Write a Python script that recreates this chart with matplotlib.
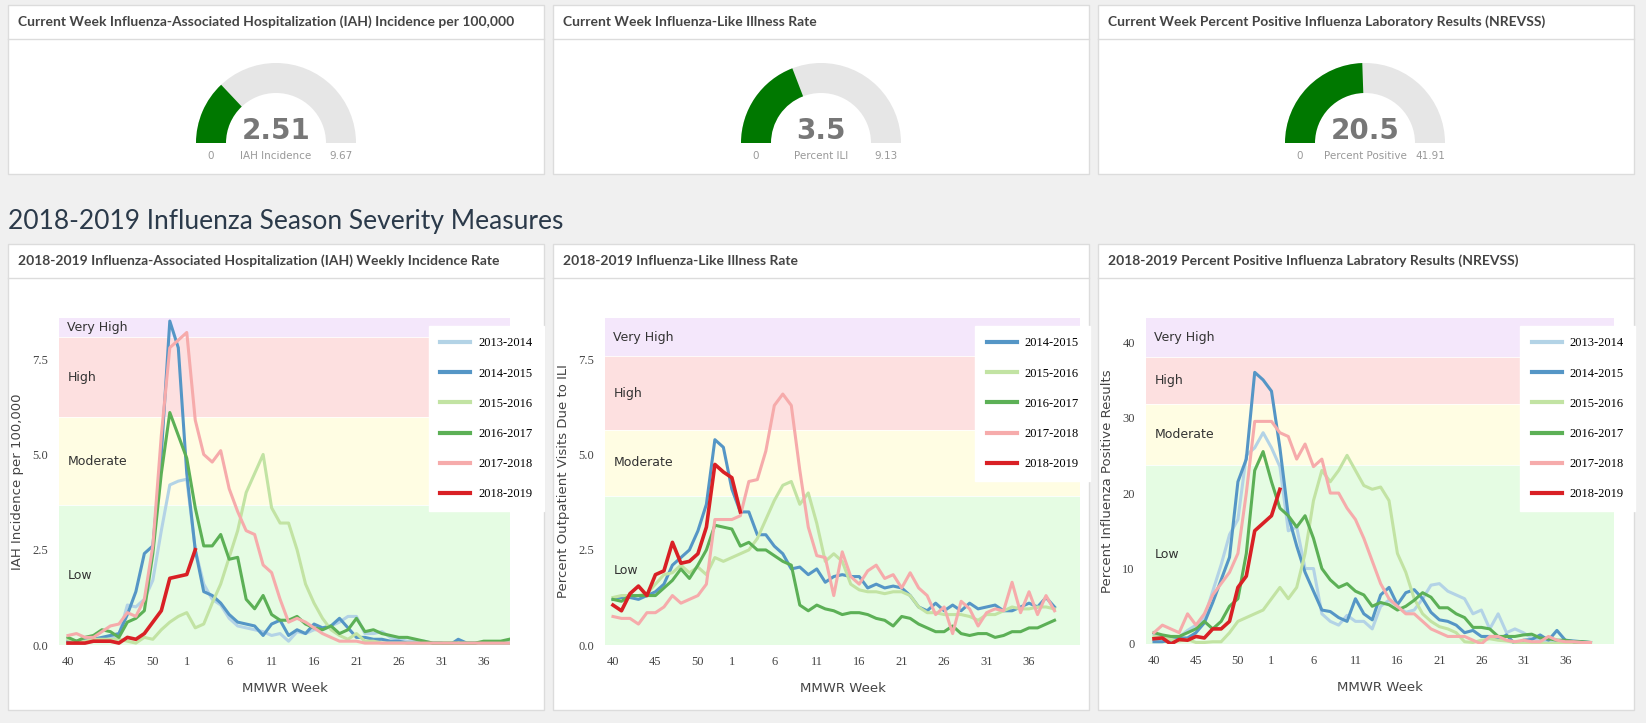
import matplotlib
matplotlib.use("Agg")
import matplotlib.pyplot as plt
from matplotlib.patches import Rectangle, Wedge
import numpy as np

W, H = 1646, 723
weeks = list(range(40, 54)) + list(range(1, 40))
tick_weeks = [40, 45, 50, 1, 6, 11, 16, 21, 26, 31, 36]

# ---------------- gauges ----------------
gauge_titles = ["Current Week Influenza-Associated Hospitalization (IAH) Incidence per 100,000",
                "Current Week Influenza-Like Illness Rate",
                "Current Week Percent Positive Influenza Laboratory Results (NREVSS)"]
gauge_values = [2.51, 3.5, 20.5]
gauge_max = [9.67, 9.13, 41.91]
gauge_labels = ["IAH Incidence", "Percent ILI", "Percent Positive"]

# ---------------- chart 1: IAH ----------------
iah = {
 "2013-2014": [0.1,0.1,0.1,0.1,0.15,0.2,0.25,1.05,1.0,1.2,1.7,3.0,4.2,4.3,4.35,2.5,1.6,1.2,1.05,0.7,0.5,0.45,0.4,0.35,0.25,0.3,0.1,0.35,0.3,0.4,0.4,0.5,0.6,0.75,0.75,0.3,0.3,0.35,0.2,0.15,0.1,0.1,0.1,0.05,0.05,0.05,0.05,0.05,0.05,0.05,0.05,0.05,0.05],
 "2014-2015": [0.1,0.1,0.15,0.15,0.2,0.25,0.3,0.8,1.4,2.4,2.6,5.0,8.5,7.8,4.5,2.5,1.4,1.3,1.1,0.8,0.6,0.55,0.5,0.25,0.55,0.65,0.25,0.4,0.3,0.55,0.45,0.5,0.7,0.45,0.2,0.2,0.15,0.15,0.1,0.1,0.05,0.05,0.05,0.05,0.05,0.0,0.15,0.05,0.05,0.05,0.05,0.05,0.05],
 "2015-2016": [0.15,0.1,0.1,0.15,0.15,0.15,0.15,0.1,0.05,0.2,0.15,0.4,0.6,0.75,0.85,0.45,0.55,1.1,1.6,2.3,3.0,4.0,4.5,5.0,3.6,3.2,3.2,2.5,1.6,1.1,0.7,0.4,0.25,0.15,0.3,0.1,0.1,0.05,0.05,0.05,0.05,0.05,0.05,0.05,0.05,0.05,0.05,0.05,0.05,0.05,0.05,0.05,0.05],
 "2016-2017": [0.2,0.1,0.2,0.25,0.4,0.35,0.2,0.6,0.7,0.9,2.4,4.5,6.1,5.5,4.9,3.6,2.6,2.6,2.9,2.25,2.3,1.2,0.95,1.3,0.8,0.65,0.65,0.75,0.55,0.45,0.4,0.5,0.3,0.4,0.7,0.35,0.4,0.3,0.25,0.2,0.2,0.15,0.1,0.05,0.05,0.05,0.05,0.05,0.05,0.1,0.1,0.1,0.15],
 "2017-2018": [0.25,0.3,0.2,0.2,0.35,0.5,0.55,0.85,0.75,1.2,2.6,5.5,7.8,8.0,8.2,5.9,5.0,4.8,5.1,4.1,3.5,3.0,2.9,2.1,1.9,1.2,0.6,0.7,0.6,0.45,0.3,0.2,0.1,0.1,0.1,0.05,0.05,0.05,0.05,0.05,0.05,0.05,0.05,0.05,0.05,0.05,0.05,0.05,0.05,0.05,0.05,0.05,0.05],
 "2018-2019": [0.05,0.05,0.05,0.1,0.1,0.1,0.05,0.2,0.15,0.3,0.6,0.9,1.75,1.8,1.85,2.5],
}
# ---------------- chart 2: ILI ----------------
ili = {
 "2014-2015": [1.2,1.25,1.25,1.2,1.3,1.4,1.6,2.1,2.3,2.5,3.0,3.7,5.4,5.2,4.1,3.5,3.5,2.9,2.9,2.6,2.4,2.0,2.05,1.85,2.0,1.65,1.8,1.85,1.8,1.8,1.5,1.6,1.5,1.55,1.5,1.3,1.0,0.9,1.1,0.9,1.05,0.9,1.1,0.95,1.0,1.05,0.9,0.9,1.0,1.1,1.0,1.25,1.0],
 "2015-2016": [1.25,1.3,1.3,1.3,1.35,1.6,1.85,1.9,2.1,1.9,2.05,1.85,2.3,2.2,2.3,2.4,2.5,2.8,3.3,3.8,4.2,4.3,3.7,4.0,3.2,2.2,2.4,2.2,1.6,1.45,1.4,1.4,1.35,1.4,1.4,1.3,1.0,0.85,0.85,0.8,0.8,0.8,0.75,0.65,0.8,0.8,0.9,1.0,0.95,0.95,1.0,1.0,0.95],
 "2016-2017": [1.2,1.15,1.3,1.3,1.3,1.3,1.5,1.7,2.0,1.75,2.1,2.5,3.15,3.1,3.05,2.6,2.7,2.5,2.5,2.35,2.2,2.1,1.05,0.9,1.05,0.95,0.9,0.8,0.85,0.85,0.8,0.7,0.65,0.5,0.75,0.7,0.55,0.45,0.35,0.35,0.5,0.3,0.25,0.3,0.3,0.2,0.25,0.35,0.35,0.45,0.45,0.55,0.65],
 "2017-2018": [0.75,0.7,0.7,0.55,0.85,0.85,1.0,1.3,1.1,1.2,1.3,1.6,3.3,3.3,3.3,3.4,4.3,4.35,5.1,6.3,6.6,6.3,4.6,3.1,2.35,2.3,1.3,2.45,1.8,1.6,1.95,2.1,1.75,1.85,1.5,1.9,1.5,1.3,0.8,1.0,0.3,1.15,0.95,0.5,0.85,0.95,0.9,1.65,0.85,1.4,0.8,1.3,0.9],
 "2018-2019": [1.05,0.9,1.35,1.55,1.3,1.85,1.95,2.7,2.15,2.2,2.4,3.1,4.75,4.55,4.4,3.5],
}
# ---------------- chart 3: percent positive ----------------
pos = {
 "2013-2014": [1.3,0.9,0.7,0.9,1.8,2.5,3.5,7,10.5,14.5,16.5,25,26,28,26,23.5,15,15.5,10,10,4,3,2.5,3.8,3,3,2,5,5.8,5,4.2,4.5,6,7.8,8,7,6.5,6,4,4.5,2,4,1.5,2,1.5,0.8,0.5,0.3,0.5,0.3,0.2,0.2,0.2],
 "2014-2015": [0.3,0.3,0.5,0.8,0.8,1.5,2.8,5.5,8.5,11.5,21.5,24.5,36,35,33.5,26,17,13,9.5,7,4.5,4.3,3.5,3,6,4,3.2,6.5,7.5,5.2,6.8,7.2,6,4.2,3.2,3.0,2.5,1.5,1.8,1.0,1.0,0.6,1.2,0,0.5,0.6,1.2,0.5,1.8,0.5,0.4,0.3,0.2],
 "2015-2016": [1.0,0.8,0.6,0.4,0.6,0.2,0.2,0.3,0.3,1.5,3,3.5,4,4.5,6,7.5,6,7.5,12,19,23,21.5,23,25,23,21,20.5,20.8,19,12,9.5,6,4,3,2.3,2,1.5,0.3,0.2,0.5,0.7,0.5,0.4,0.2,0.1,0.1,0.1,0.1,0.1,0.1,0.1,0.1,0.1],
 "2016-2017": [1.5,1.2,1.0,1.0,1.5,2.0,3.0,2.0,3.0,5.0,6.0,12,23,25.5,21.5,18,17,15.5,17,14,10,8.5,7.5,8,7,6.5,5,5.5,5.2,4.5,5,5.8,6.8,6.2,4.8,4.8,4,3.5,2.2,2.2,2,1,1,1,1.2,1.3,0.8,0.7,0.5,0.5,0.3,0.3,0.2],
 "2017-2018": [1.5,2.5,2.0,1.5,4,2.5,4,6.5,8,9.5,12,20,29.5,29.5,29.5,28,27.5,24.5,26.5,23.5,24.5,20,20,18,16.5,14,11,8,6,5,4,4,3,2,1.5,1,1,1,0.5,0,1,1,0.5,0.3,0.5,0.3,0.3,1.0,0.5,0.3,0.3,0.2,0.2],
 "2018-2019": [0.7,0.8,0,0.6,0.5,1,0.8,2,2,3,7.5,9,15,16,17,20.5],
}

colors = {"2013-2014": "#b3d3e6", "2014-2015": "#5596c6", "2015-2016": "#c2e3a3",
          "2016-2017": "#5cb056", "2017-2018": "#f6abab", "2018-2019": "#d92025"}

band_colors = ["#e5fce3", "#fffde3", "#fde0e0", "#f4e7fb"]
band_names = ["Low", "Moderate", "High", "Very High"]

fig = plt.figure(figsize=(W/100, H/100), dpi=100)
fig.patch.set_facecolor("#f0f0f0")

def fx(x): return x / W
def fy(y): return 1 - y / H

def panel(l, t, r, b, title, header=34):
    rect = Rectangle((fx(l), fy(b)), fx(r-l), (b-t)/H, transform=fig.transFigure,
                     facecolor="white", edgecolor="#dcdcdc", lw=1, zorder=-10)
    fig.patches.append(rect)
    ln = plt.Line2D([fx(l), fx(r)], [fy(t+header)]*2, transform=fig.transFigure,
                    color="#dcdcdc", lw=1, zorder=-9)
    fig.lines.append(ln)
    fig.text(fx(l+10), fy(t+header/2), title, fontsize=10, fontweight="bold", family="Lato",
             color="#444444", va="center", ha="left")

tops = [(8, 544), (553, 1089), (1098, 1634)]
bottom_titles = ["2018-2019 Influenza-Associated Hospitalization (IAH) Weekly Incidence Rate",
                 "2018-2019 Influenza-Like Illness Rate",
                 "2018-2019 Percent Positive Influenza Labratory Results (NREVSS)"]
for i, (l, r) in enumerate(tops):
    panel(l, 5, r, 174, gauge_titles[i])
    panel(l, 244, r, 710, bottom_titles[i])

fig.text(fx(8), fy(221), "2018-2019 Influenza Season Severity Measures", fontsize=19, family="Lato",
         color="#2b3a4a", va="center", ha="left")

# gauges
centers = [276, 821, 1365]
for i, cx in enumerate(centers):
    cy = 143
    R, r_in = 80, 50
    gax = fig.add_axes([fx(cx-R-40), fy(cy+25), (2*R+80)/W, (R+30)/H])
    gax.set_xlim(-R-40, R+40); gax.set_ylim(-25, R+5)
    gax.axis("off")
    gax.add_patch(Wedge((0, 0), R, 0, 180, width=R-r_in, facecolor="#e6e6e6", edgecolor="none"))
    ang = 180 - 180 * gauge_values[i] / gauge_max[i]
    gax.add_patch(Wedge((0, 0), R, ang, 180, width=R-r_in, facecolor="#007800", edgecolor="none"))
    gax.text(0, 12, f"{gauge_values[i]}", ha="center", va="center", fontsize=20, fontweight="bold",
             color="#777777", family="DejaVu Sans")
    gax.text(-65, -13, "0", ha="center", va="center", fontsize=7.5, color="#999999")
    gax.text(0, -13, gauge_labels[i], ha="center", va="center", fontsize=7.5, color="#999999")
    gax.text(65, -13, f"{gauge_max[i]}", ha="center", va="center", fontsize=7.5, color="#999999")

def chart(l, t, r, b, data, xlim, ylim, thresholds, yticks, yfmt, ylabel, legend_box):
    ax = fig.add_axes([fx(l), fy(b), (r-l)/W, (b-t)/H])
    ax.set_facecolor("white")
    edges = [ylim[0]] + thresholds + [ylim[1]]
    for k in range(4):
        ax.axhspan(edges[k], edges[k+1], color=band_colors[k], lw=0, zorder=0)
        mid = (edges[k] + edges[k+1]) / 2
        ax.text(xlim[0] + 1.0, mid, band_names[k], fontsize=9, color="#333333", va="center",
                family="DejaVu Sans", zorder=1)
    for k in range(3):
        ax.axhline(edges[k+1], color="white", lw=0.6, zorder=0.5)
    for name, vals in data.items():
        x = np.arange(len(vals))
        lw = 2.6 if name == "2018-2019" else 2.2
        ax.plot(x, vals, color=colors[name], lw=lw, label=name, zorder=3 if name == "2018-2019" else 2,
                solid_joinstyle="round")
    ax.set_xlim(*xlim); ax.set_ylim(*ylim)
    ax.set_xticks([weeks.index(w) for w in tick_weeks])
    ax.set_xticklabels([str(w) for w in tick_weeks], family="Liberation Serif", fontsize=9, color="#444444")
    ax.set_yticks(yticks)
    ax.set_yticklabels([yfmt.format(v) for v in yticks], family="Liberation Serif", fontsize=9, color="#444444")
    ax.tick_params(length=0, pad=8)
    for s in ax.spines.values(): s.set_visible(False)
    ax.set_xlabel("MMWR Week", fontsize=9.5, color="#444444", labelpad=10)
    ax.set_ylabel(ylabel, fontsize=9.5, color="#444444", labelpad=6)
    lx, ly = legend_box
    leg = ax.legend(loc="upper left", bbox_to_anchor=(fx(lx), fy(ly)), bbox_transform=fig.transFigure,
                    frameon=True, fancybox=False, framealpha=1, edgecolor="white",
                    prop={"family": "Liberation Serif", "size": 9}, labelspacing=1.45,
                    handlelength=2.4, borderpad=0.9, handletextpad=0.6)
    for h in leg.get_lines(): h.set_linewidth(3)
    return ax

chart(59, 318, 510, 645, iah, (-1.06, 52.1), (0, 8.58), [3.67, 5.98, 8.08], [0, 2.5, 5.0, 7.5], "{:.1f}",
      "IAH Incidence per 100,000", (423, 320))
chart(605, 318, 1080, 645, ili, (-0.94, 55.0), (0, 8.6), [3.93, 5.65, 7.6], [0, 2.5, 5.0, 7.5], "{:.1f}",
      "Percent Outpatient Visits Due to ILI", (969, 320))
chart(1146, 318, 1614, 644, pos, (-0.95, 54.8), (0, 43.2), [23.7, 31.8, 38.0], [0, 10, 20, 30, 40], "{:d}",
      "Percent Influenza Positive Results", (1514, 320))

fig.savefig("out.png", dpi=100, facecolor=fig.get_facecolor())
